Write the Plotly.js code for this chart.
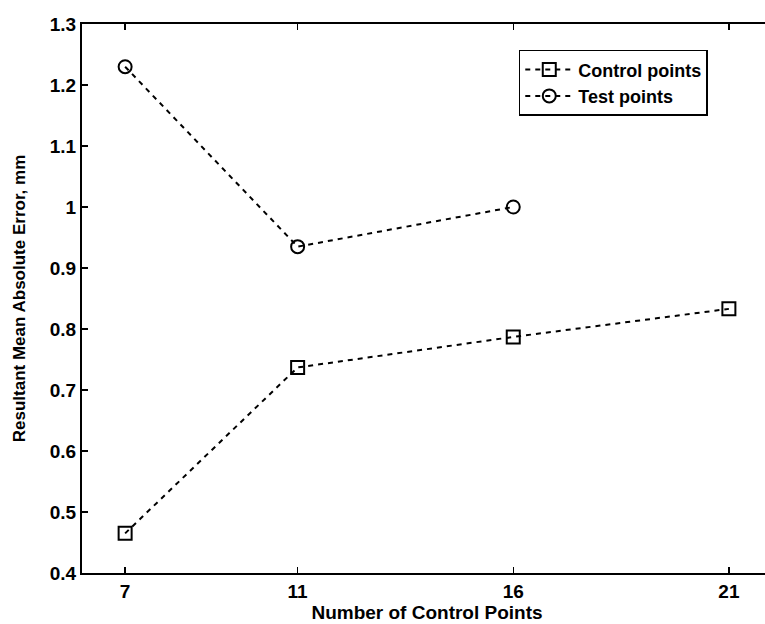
<!DOCTYPE html>
<html>
<head>
<meta charset="utf-8">
<script src="https://cdn.plot.ly/plotly-3.0.1.min.js"></script>
<style>html,body{margin:0;padding:0;background:#fff;overflow:hidden;}#wrap{width:765px;height:624px;overflow:hidden;}#chart{width:772px;height:624px;}</style>
</head>
<body>
<div id="wrap"><div id="chart"></div></div>
<script>
const xCategories = [7, 11, 16, 21];
const controlValues = [0.465, 0.737, 0.787, 0.833];
const testX = [7, 11, 16];
const testValues = [1.23, 0.935, 1.0];
const xTickVals = [7, 11, 16, 21];
const yTickVals = [0.4, 0.5, 0.6, 0.7, 0.8, 0.9, 1.0, 1.1, 1.2, 1.3];
const yTickText = ['0.4','0.5','0.6','0.7','0.8','0.9','1','1.1','1.2','1.3'];

const font = {family: 'Liberation Sans, Arial, sans-serif', color: '#000', weight: 'bold'};
const f = s => Object.assign({size: s}, font);

const traces = [
  {x: xCategories, y: controlValues, name: 'Control points', mode: 'lines+markers',
   line: {color: '#000', width: 2, dash: '5px,5px'},
   marker: {symbol: 'square-open', size: 13, color: '#000', line: {width: 2, color: '#000'}}},
  {x: testX, y: testValues, name: 'Test points', mode: 'lines+markers',
   line: {color: '#000', width: 2, dash: '5px,5px'},
   marker: {symbol: 'circle-open', size: 13, color: '#000', line: {width: 2, color: '#000'}}}
];

const layout = {
  width: 772, height: 624,
  margin: {l: 82, r: 0, t: 24, b: 51},
  paper_bgcolor: '#fff', plot_bgcolor: '#fff',
  font: f(16),
  showlegend: true,
  legend: {x: 0.633, y: 0.953, xanchor: 'left', yanchor: 'top',
           bgcolor: '#fff', bordercolor: '#000', borderwidth: 1.5,
           font: f(18), tracegroupgap: 0, itemwidth: 48},
  xaxis: {range: [6, 22], tickvals: xTickVals, ticktext: xTickVals.map(String),
          ticks: 'inside', ticklen: 6, tickwidth: 1.5, tickcolor: '#000',
          showline: true, linecolor: '#000', linewidth: 2, mirror: 'ticks',
          showgrid: false, zeroline: false,
          tickfont: f(19),
          title: {text: 'Number of Control Points', font: f(19), standoff: 2}},
  yaxis: {range: [0.4, 1.3], tickvals: yTickVals, ticktext: yTickText,
          ticks: 'inside', ticklen: 6, tickwidth: 1.5, tickcolor: '#000',
          showline: true, linecolor: '#000', linewidth: 2, mirror: false,
          showgrid: false, zeroline: false,
          tickfont: f(19),
          title: {text: 'Resultant Mean Absolute Error, mm', font: f(17), standoff: 20}}
};

Plotly.newPlot('chart', traces, layout, {displayModeBar: false, staticPlot: true});
</script>
</body>
</html>
